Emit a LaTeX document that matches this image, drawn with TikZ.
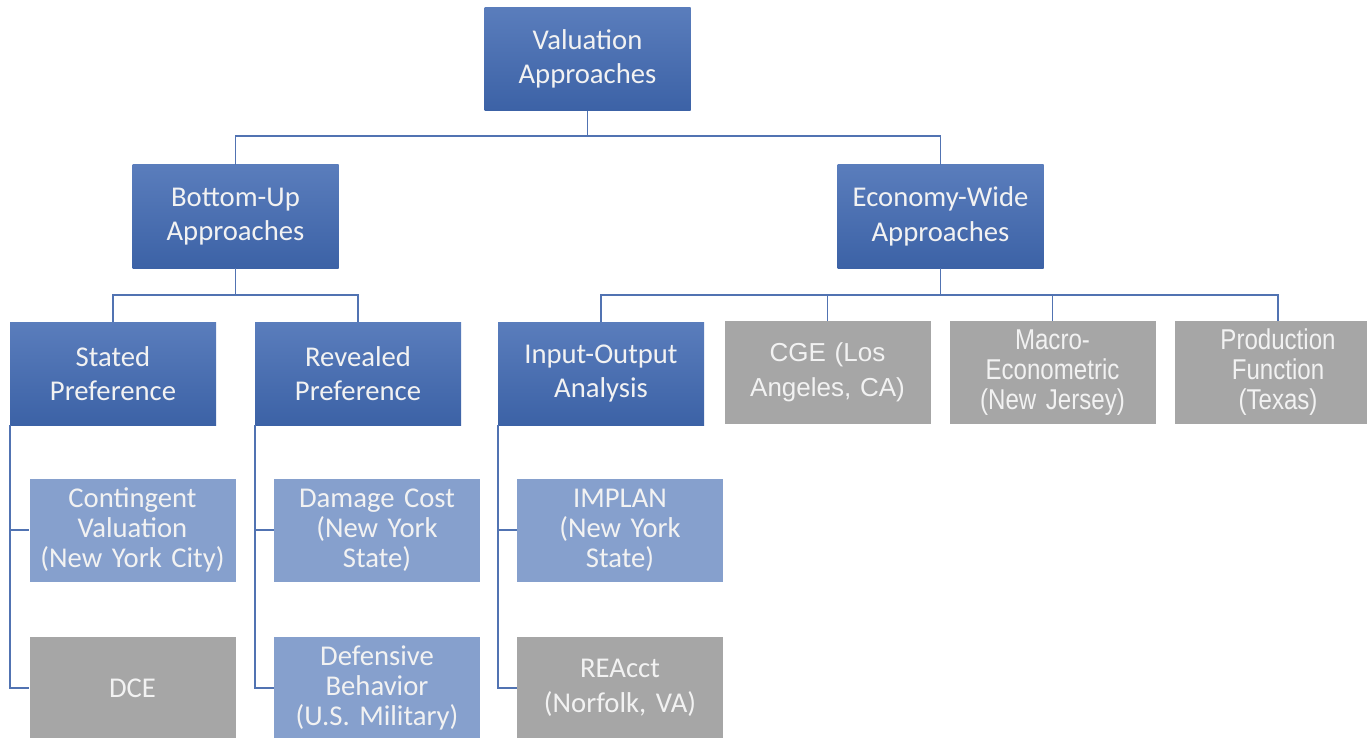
\documentclass[tikz,border=0pt]{standalone}
\usepackage{fontspec}
\setmainfont{Carlito}
\newfontfamily\arialf{Liberation Sans}
\newfontfamily\narrowf[FakeStretch=0.84]{Liberation Sans}
\definecolor{dtop}{HTML}{5A7DBC}
\definecolor{dbot}{HTML}{3C62A6}
\definecolor{lblue}{HTML}{86A0CD}
\definecolor{gbox}{HTML}{A6A6A6}
\definecolor{conn}{HTML}{5173B2}
\definecolor{txt}{HTML}{F2F2F2}
\tikzset{
  box/.style={minimum width=154.5pt, minimum height=77.25pt, inner sep=0pt,
    align=center, text=txt, font=\fontsize{21.5}{26}\selectfont, text width=150pt},
  dark/.style={box, top color=dtop, bottom color=dbot, draw=none},
  light/.style={box, fill=lblue},
  grey/.style={box, fill=gbox},
  conn/.style={draw=conn, line width=1.4pt},
}
\begin{document}
\begin{tikzpicture}[x=0.75pt,y=-0.75pt]
\useasboundingbox (0,0) rectangle (1367,738);
\node[dark] (top) at (587.5,59) {Valuation\\Approaches};
\node[dark] (bu) at (235.5,216.5) {Bottom-Up\\Approaches};
\node[dark] (ew) at (940.5,216.5) {Economy-Wide\\Approaches};
\node[dark] (sp) at (113,373.5) {Stated\\Preference};
\node[dark] (rp) at (358,373.5) {Revealed\\Preference};
\node[dark] (io) at (601,373.5) {Input-Output\\Analysis};
\node[grey, font=\arialf\fontsize{19.5}{26}\selectfont] (cge) at (827.5,372.5) {CGE (Los\\Angeles, CA)};
\node[grey, font=\narrowf\fontsize{21.5}{22.5}\selectfont] (mac) at (1052.5,372.5) {Macro-\\Econometric\\(New Jersey)};
\node[grey, font=\narrowf\fontsize{21.5}{22.5}\selectfont] (prod) at (1278,372.5) {Production\\Function\\(Texas)};
\node[light, font=\fontsize{21.5}{22.5}\selectfont] (cv) at (132.5,530) {Contingent\\Valuation\\(New York City)};
\node[grey] (dce) at (132.5,688) {DCE};
\node[light, font=\fontsize{21.5}{22.5}\selectfont] (dc) at (377,530) {Damage Cost\\(New York\\State)};
\node[light, font=\fontsize{21.5}{22.5}\selectfont] (db) at (377,688) {Defensive\\Behavior\\(U.S. Military)};
\node[light, font=\fontsize{21.5}{22.5}\selectfont] (impl) at (620,530) {IMPLAN\\(New York\\State)};
\node[grey, font=\fontsize{21.5}{26}\selectfont] (rea) at (620,688) {REAcct\\(Norfolk, VA)};
\begin{scope}[conn]
\draw (top.south) -- ++(0,25) -| (bu.north);
\draw (top.south) -- ++(0,25) -| (ew.north);
\draw (bu.south) -- ++(0,27) -| (sp.north);
\draw (bu.south) -- ++(0,27) -| (rp.north);
\draw (ew.south) -- ++(0,27) -| (io.north);
\draw (ew.south) -- ++(0,27) -| (cge.north);
\draw (ew.south) -- ++(0,27) -| (mac.north);
\draw (ew.south) -- ++(0,27) -| (prod.north);
\draw (sp.south west) |- (cv.west);
\draw (sp.south west) |- (dce.west);
\draw (rp.south west) |- (dc.west);
\draw (rp.south west) |- (db.west);
\draw (io.south west) |- (impl.west);
\draw (io.south west) |- (rea.west);
\end{scope}
\end{tikzpicture}
\end{document}
